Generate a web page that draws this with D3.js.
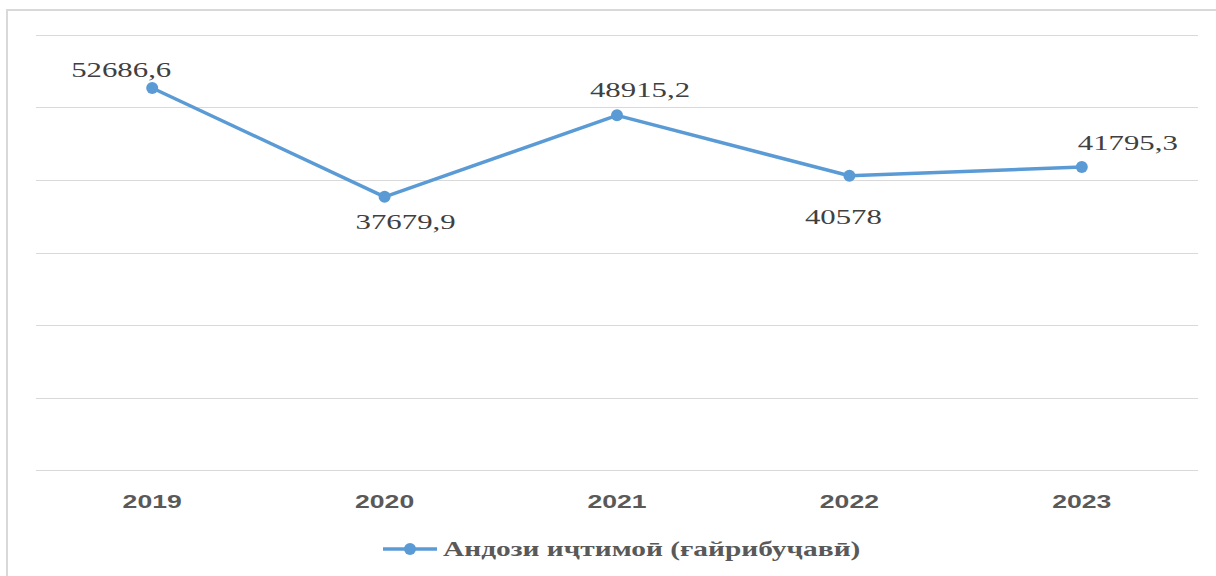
<!DOCTYPE html>
<html>
<head>
<meta charset="utf-8">
<script src="https://cdn.jsdelivr.net/npm/d3@7"></script>
<style>
  body { margin: 0; background: #fff; }
  svg { display: block; }
</style>
</head>
<body>
<svg id="chart"></svg>
<script>
const years = ["2019", "2020", "2021", "2022", "2023"];
const values = [52686.6, 37679.9, 48915.2, 40578, 41795.3];
const valueLabels = ["52686,6", "37679,9", "48915,2", "40578", "41795,3"];
const yTicks = [0, 10000, 20000, 30000, 40000, 50000, 60000];
const seriesName = "Андози иҷтимоӣ (ғайрибуҷавӣ)";

// where each value label sits relative to its point (hand placed in the original)
const labelShift = [[-31, -11], [21, 32], [23, -18], [-6, 48], [46, -17]];

const W = 1216, H = 576;
const blue = "#5b9bd5";
const stretch = 1.4; // text in the picture is widened

const svg = d3.select("#chart")
    .attr("width", W)
    .attr("height", H);

svg.append("rect")
    .attr("x", 7)
    .attr("y", 10)
    .attr("width", W)
    .attr("height", H)
    .attr("fill", "#fff")
    .attr("stroke", "#d9d9d9")
    .attr("stroke-width", 2);

const x = d3.scaleBand().domain(years).range([36, 1198]);
const y = d3.scaleLinear().domain([0, 60000]).range([470, 35]);

svg.append("g")
    .selectAll("line")
    .data(yTicks)
    .join("line")
    .attr("x1", 36)
    .attr("x2", 1198)
    .attr("y1", d => Math.round(y(d)) + 0.5)
    .attr("y2", d => Math.round(y(d)) + 0.5)
    .attr("stroke", "#d9d9d9")
    .attr("stroke-width", 1);

const cx = d => x(d) + x.bandwidth() / 2;

function wideText(g, tx, ty) {
    return g.attr("transform", `translate(${tx},${ty}) scale(${stretch},1)`);
}

// year labels
svg.append("g")
    .selectAll("text")
    .data(years)
    .join("text")
    .each(function(d) { wideText(d3.select(this), cx(d), 508); })
    .attr("text-anchor", "middle")
    .attr("font-family", "Liberation Sans, Arial, sans-serif")
    .attr("font-weight", "bold")
    .attr("font-size", 19)
    .attr("fill", "#595959")
    .text(d => d);

const line = d3.line()
    .x((d, i) => cx(years[i]))
    .y(d => y(d));

svg.append("path")
    .attr("d", line(values))
    .attr("fill", "none")
    .attr("stroke", blue)
    .attr("stroke-width", 3.5)
    .attr("stroke-linejoin", "round");

svg.append("g")
    .selectAll("circle")
    .data(values)
    .join("circle")
    .attr("cx", (d, i) => cx(years[i]))
    .attr("cy", d => y(d))
    .attr("r", 6)
    .attr("fill", blue);

svg.append("g")
    .selectAll("text")
    .data(values)
    .join("text")
    .each(function(d, i) {
        wideText(d3.select(this), cx(years[i]) + labelShift[i][0], y(d) + labelShift[i][1]);
    })
    .attr("text-anchor", "middle")
    .attr("font-family", "Liberation Serif, Times New Roman, serif")
    .attr("font-size", 22)
    .attr("fill", "#404040")
    .text((d, i) => valueLabels[i]);

// legend
const lg = svg.append("g");
lg.append("line")
    .attr("x1", 383).attr("x2", 437)
    .attr("y1", 549).attr("y2", 549)
    .attr("stroke", blue)
    .attr("stroke-width", 3.5);
lg.append("circle")
    .attr("cx", 410).attr("cy", 549).attr("r", 6)
    .attr("fill", blue);
lg.append("text")
    .attr("transform", `translate(443,556) scale(${stretch},1)`)
    .attr("font-family", "Liberation Serif, Times New Roman, serif")
    .attr("font-weight", "bold")
    .attr("font-size", 21)
    .attr("fill", "#595959")
    .text(seriesName);
</script>
</body>
</html>
